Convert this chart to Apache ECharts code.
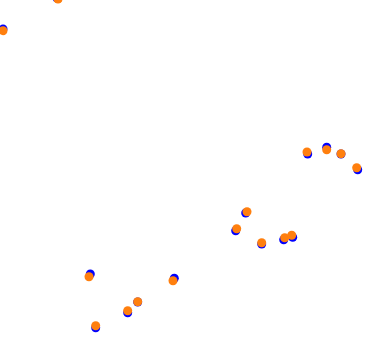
<!DOCTYPE html>
<html>
<head>
<meta charset="utf-8">
<script src="https://cdn.jsdelivr.net/npm/echarts@6/dist/echarts.min.js"></script>
<style>html,body{margin:0;padding:0;background:#fff}#c{width:365px;height:350px}</style>
</head>
<body>
<div id="c"></div>
<script>
// Values on a hidden 0..365 (x) by 0..350 (y) scale
const actualX = [3, 57, 307.7, 326.7, 341, 357.7, 245.7, 235.7, 261.7, 283.7, 292.7, 90.3, 174.3, 137.7, 127.7, 95.7];
const actualY = [321, 352, 196, 202.7, 196, 180.3, 137, 119.3, 106, 110.3, 112.7, 76, 71.7, 48, 37.3, 22.3];
const predX = [3, 58, 307, 326.7, 341, 356.7, 247, 236.7, 261.7, 284.7, 291.7, 89, 173, 137.7, 127.7, 95.7];
const predY = [319.3, 351, 198, 200.3, 196.3, 182.3, 138.3, 121.3, 107.3, 112.3, 114.7, 73.3, 69.3, 48.3, 39.3, 24.3];

const chart = echarts.init(document.getElementById('c'));
chart.setOption({
  animation: false,
  grid: {left: 0, right: 0, top: 0, bottom: 0},
  xAxis: {type: 'value', min: 0, max: 365, show: false},
  yAxis: {type: 'value', min: 0, max: 350, show: false},
  series: [
    {type: 'scatter', clip: false, symbolSize: 9, itemStyle: {color: '#0000ff', opacity: 1},
     data: actualX.map((x, i) => [x, actualY[i]])},
    {type: 'scatter', clip: false, symbolSize: 9, itemStyle: {color: '#ff7f0e', opacity: 1},
     data: predX.map((x, i) => [x, predY[i]])}
  ]
});
</script>
</body>
</html>
